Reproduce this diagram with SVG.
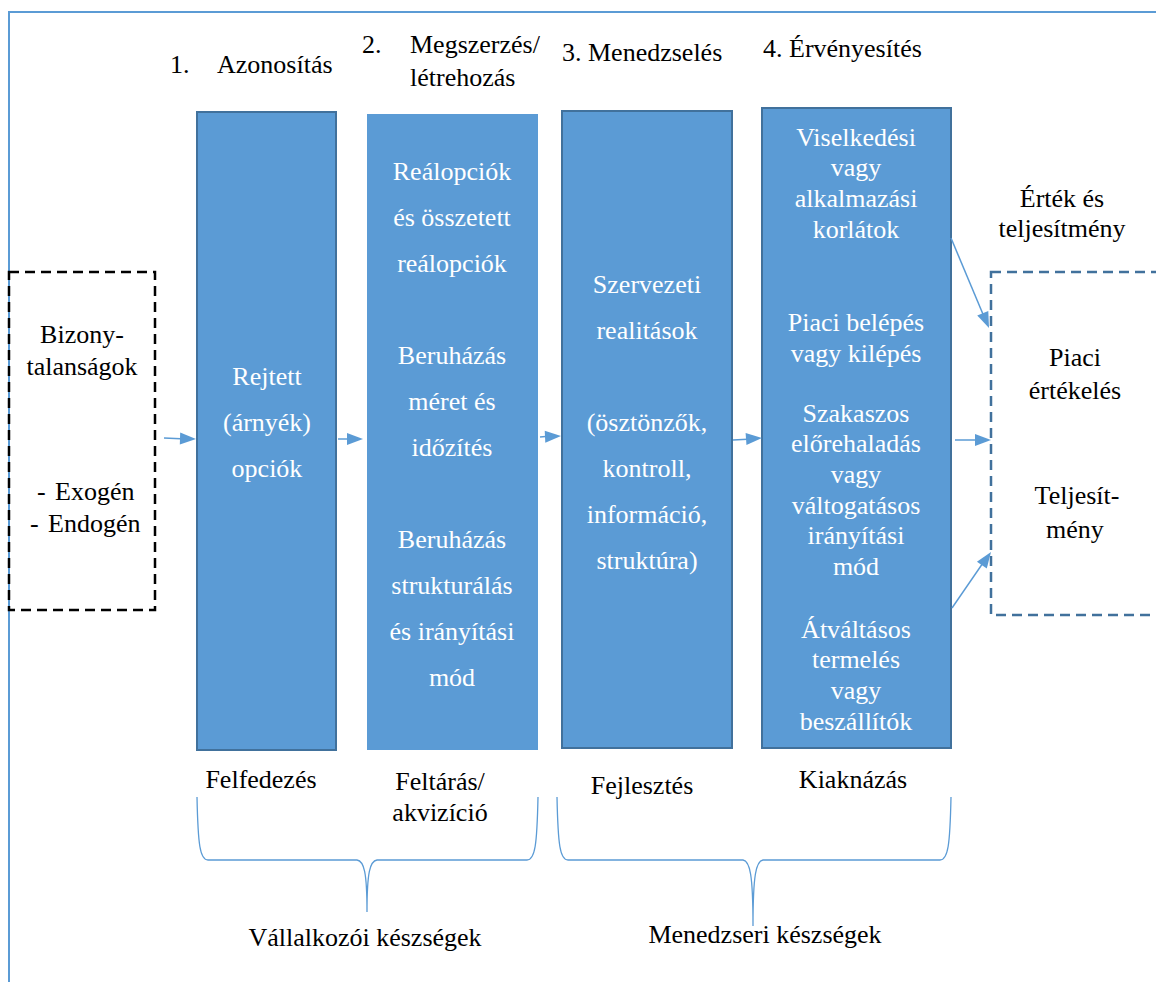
<svg xmlns="http://www.w3.org/2000/svg" width="1156" height="982" viewBox="0 0 1156 982">
<defs>
  <path id="ah" d="M-16,-6 L0,0 L-16,6 Z" fill="#5B9BD5"/>
</defs>
<rect width="1156" height="982" fill="#fff"/>
<path d="M9,982 L9,12 L1156,12" fill="none" stroke="#5B9BD5" stroke-width="2"/>

<g id="headers" font-size="26" fill="#000">
  <text x="170" y="73" font-family="Liberation Serif">1.</text>
  <text x="217" y="73" font-family="Liberation Serif">Azonosítás</text>
  <text x="362" y="53" font-family="Liberation Serif">2.</text>
  <text x="410" y="53" font-family="Liberation Serif">Megszerzés/</text>
  <text x="410" y="86" font-family="Liberation Serif">létrehozás</text>
  <text x="562" y="61" font-family="Liberation Serif">3. Menedzselés</text>
  <text x="763" y="57" font-family="Liberation Serif">4. Érvényesítés</text>
  <text x="1062" y="207" text-anchor="middle" font-family="Liberation Serif">Érték és</text>
  <text x="1062" y="237" text-anchor="middle" font-family="Liberation Serif">teljesítmény</text>
</g>

<g id="uncertainty" font-size="26" fill="#000">
  <rect x="9" y="272" width="146" height="338" fill="none" stroke="#000" stroke-width="2.5" stroke-dasharray="10,6"/>
  <text x="82" y="343" text-anchor="middle" font-family="Liberation Serif">Bizony-</text>
  <text x="82" y="375" text-anchor="middle" font-family="Liberation Serif">talanságok</text>
  <text x="37" y="500" font-family="Liberation Serif">-</text>
  <text x="55" y="500" font-family="Liberation Serif">Exogén</text>
  <text x="30" y="532" font-family="Liberation Serif">-</text>
  <text x="48" y="532" font-family="Liberation Serif">Endogén</text>
</g>

<g id="box1" font-size="26" fill="#fff" text-anchor="middle">
  <rect x="197" y="112" width="139" height="638" fill="#5B9BD5" stroke="#41719C" stroke-width="2"/>
  <text x="267" y="385" font-family="Liberation Serif">Rejtett</text>
  <text x="267" y="431" font-family="Liberation Serif">(árnyék)</text>
  <text x="267" y="477" font-family="Liberation Serif">opciók</text>
</g>

<g id="box2" font-size="26" fill="#fff" text-anchor="middle">
  <rect x="367" y="114" width="171" height="636" fill="#5B9BD5"/>
  <text x="452" y="180" font-family="Liberation Serif">Reálopciók</text>
  <text x="452" y="226" font-family="Liberation Serif">és összetett</text>
  <text x="452" y="272" font-family="Liberation Serif">reálopciók</text>
  <text x="452" y="364" font-family="Liberation Serif">Beruházás</text>
  <text x="452" y="410" font-family="Liberation Serif">méret és</text>
  <text x="452" y="456" font-family="Liberation Serif">időzítés</text>
  <text x="452" y="548" font-family="Liberation Serif">Beruházás</text>
  <text x="452" y="594" font-family="Liberation Serif">strukturálás</text>
  <text x="452" y="640" font-family="Liberation Serif">és irányítási</text>
  <text x="452" y="686" font-family="Liberation Serif">mód</text>
</g>

<g id="box3" font-size="26" fill="#fff" text-anchor="middle">
  <rect x="562" y="111" width="170" height="637" fill="#5B9BD5" stroke="#41719C" stroke-width="2"/>
  <text x="647" y="293" font-family="Liberation Serif">Szervezeti</text>
  <text x="647" y="339" font-family="Liberation Serif">realitások</text>
  <text x="647" y="431" font-family="Liberation Serif">(ösztönzők,</text>
  <text x="647" y="477" font-family="Liberation Serif">kontroll,</text>
  <text x="647" y="523" font-family="Liberation Serif">információ,</text>
  <text x="647" y="569" font-family="Liberation Serif">struktúra)</text>
</g>

<g id="box4" font-size="26" fill="#fff" text-anchor="middle">
  <rect x="762" y="108" width="189" height="640" fill="#5B9BD5" stroke="#41719C" stroke-width="2"/>
  <text x="856" y="146" font-family="Liberation Serif">Viselkedési</text>
  <text x="856" y="176" font-family="Liberation Serif">vagy</text>
  <text x="856" y="207" font-family="Liberation Serif">alkalmazási</text>
  <text x="856" y="238" font-family="Liberation Serif">korlátok</text>
  <text x="856" y="331" font-family="Liberation Serif">Piaci belépés</text>
  <text x="856" y="362" font-family="Liberation Serif">vagy kilépés</text>
  <text x="856" y="422" font-family="Liberation Serif">Szakaszos</text>
  <text x="856" y="452" font-family="Liberation Serif">előrehaladás</text>
  <text x="856" y="483" font-family="Liberation Serif">vagy</text>
  <text x="856" y="514" font-family="Liberation Serif">váltogatásos</text>
  <text x="856" y="544" font-family="Liberation Serif">irányítási</text>
  <text x="856" y="575" font-family="Liberation Serif">mód</text>
  <text x="856" y="638" font-family="Liberation Serif">Átváltásos</text>
  <text x="856" y="668" font-family="Liberation Serif">termelés</text>
  <text x="856" y="699" font-family="Liberation Serif">vagy</text>
  <text x="856" y="730" font-family="Liberation Serif">beszállítók</text>
</g>

<g id="value" font-size="26" fill="#000" text-anchor="middle">
  <rect x="991" y="272" width="180" height="343" fill="none" stroke="#41719C" stroke-width="2.5" stroke-dasharray="10,6"/>
  <text x="1075" y="366" font-family="Liberation Serif">Piaci</text>
  <text x="1075" y="399" font-family="Liberation Serif">értékelés</text>
  <text x="1077" y="504" font-family="Liberation Serif">Teljesít-</text>
  <text x="1075" y="538" font-family="Liberation Serif">mény</text>
</g>

<g id="connectors">
  <g stroke="#5B9BD5" stroke-width="1.5" fill="none">
    <line x1="164" y1="438" x2="186" y2="439"/>
    <line x1="338" y1="439" x2="353" y2="439"/>
    <line x1="540" y1="437" x2="551" y2="436"/>
    <line x1="733" y1="440" x2="752" y2="439"/>
    <line x1="951" y1="238" x2="985" y2="319"/>
    <line x1="955" y1="440" x2="981" y2="440"/>
    <line x1="952" y1="608" x2="985" y2="560"/>
  </g>
  <use href="#ah" transform="translate(196,439) rotate(1.8)"/>
  <use href="#ah" transform="translate(363,439)"/>
  <use href="#ah" transform="translate(561,436) rotate(-2.7)"/>
  <use href="#ah" transform="translate(762,438) rotate(-3.9)"/>
  <use href="#ah" transform="translate(989,328) rotate(67.1)"/>
  <use href="#ah" transform="translate(991,440)"/>
  <use href="#ah" transform="translate(991,552) rotate(-55.1)"/>
</g>

<g id="phase-labels" font-size="26" fill="#000" text-anchor="middle">
  <text x="261" y="788" font-family="Liberation Serif">Felfedezés</text>
  <text x="440" y="790" font-family="Liberation Serif">Feltárás/</text>
  <text x="440" y="821" font-family="Liberation Serif">akvizíció</text>
  <text x="642" y="794" font-family="Liberation Serif">Fejlesztés</text>
  <text x="853" y="788" font-family="Liberation Serif">Kiaknázás</text>
</g>

<g id="brace-entrepreneurial" font-size="26" fill="#000" text-anchor="middle">
  <path d="M197,797 C198,845 200,860 208,860 L357,860 C364,861 367,872 367,912 C367,872 370,861 377,860 L527,860 C535,860 537,845 538,797" fill="none" stroke="#5B9BD5" stroke-width="1.3"/>
  <text x="365" y="946" font-family="Liberation Serif">Vállalkozói készségek</text>
</g>

<g id="brace-managerial" font-size="26" fill="#000" text-anchor="middle">
  <path d="M557,797 C558,845 560,860 568,860 L743,860 C750,861 753,875 753,926 C753,875 756,861 763,860 L940,860 C948,860 950,845 951,797" fill="none" stroke="#5B9BD5" stroke-width="1.3"/>
  <text x="765" y="943" font-family="Liberation Serif">Menedzseri készségek</text>
</g>
</svg>
